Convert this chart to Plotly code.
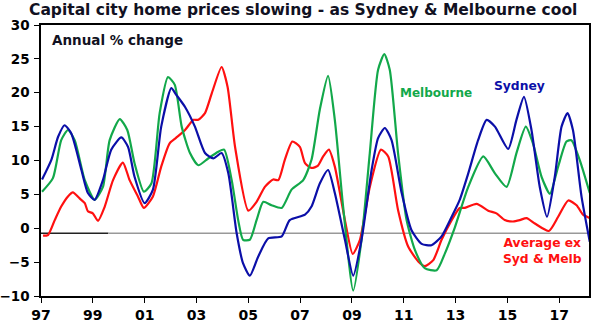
import plotly.graph_objects as go

# ---- data (decimal years, annual % change) ----
syd_t = [1997.04, 1997.4, 1997.66, 1997.91, 1998.17, 1998.56, 1998.81, 1999.07, 1999.39, 1999.71,
         2000.1, 2000.36, 2000.61, 2001.0, 2001.32, 2001.64, 2002.03, 2002.2, 2002.56, 2002.94,
         2003.33, 2003.65, 2003.97, 2004.23, 2004.55, 2004.8, 2005.06, 2005.38, 2005.77, 2006.29,
         2006.6, 2007.19, 2007.44, 2007.76, 2008.08, 2008.34, 2008.73, 2009.05, 2009.37, 2009.76,
         2010.01, 2010.27, 2010.53, 2010.92, 2011.3, 2011.69, 2012.07, 2012.46, 2012.85, 2013.16,
         2013.49, 2013.87, 2014.2, 2014.52, 2015.03, 2015.35, 2015.64, 2015.93, 2016.25, 2016.53,
         2016.83, 2017.09, 2017.32, 2017.53, 2017.86, 2018.18]
syd_v = [7.2, 10.1, 13.5, 15.2, 14.0, 8.6, 5.2, 4.2, 7.1, 11.6,
         13.4, 12.0, 7.6, 3.7, 5.7, 15.0, 20.7, 19.8, 17.9, 15.0,
         11.1, 10.3, 11.1, 8.1, -0.7, -5.2, -7.0, -4.2, -1.5, -1.2,
         1.2, 2.0, 3.2, 6.6, 8.6, 5.2, -1.7, -7.0, -1.7, 8.6,
         13.3, 14.8, 13.0, 5.2, -0.3, -2.3, -2.5, -1.2, 1.7, 4.2,
         8.1, 13.0, 16.0, 15.0, 11.7, 16.0, 19.4, 14.5, 6.1, 1.7,
         7.6, 15.0, 17.0, 14.5, 4.7, -2.0]

mel_t = [1997.04, 1997.46, 1997.78, 1998.04, 1998.3, 1998.69, 1999.07, 1999.39, 1999.65, 2000.04,
         2000.33, 2000.61, 2000.97, 2001.26, 2001.58, 2001.9, 2002.16, 2002.43, 2002.75, 2003.07,
         2003.45, 2003.84, 2004.07, 2004.36, 2004.61, 2004.8, 2005.06, 2005.32, 2005.58, 2005.9,
         2006.29, 2006.67, 2007.12, 2007.44, 2007.76, 2008.08, 2008.34, 2008.66, 2009.05, 2009.37,
         2009.69, 2010.01, 2010.25, 2010.46, 2010.78, 2011.11, 2011.43, 2011.81, 2012.27, 2012.59,
         2012.97, 2013.49, 2014.07, 2014.52, 2014.97, 2015.35, 2015.71, 2015.99, 2016.32, 2016.64,
         2016.96, 2017.28, 2017.47, 2017.79, 2018.18]
mel_v = [5.4, 7.4, 13.0, 14.5, 13.0, 7.1, 4.2, 6.1, 13.0, 16.1,
         14.5, 9.6, 5.4, 6.6, 17.0, 22.3, 21.2, 15.0, 11.1, 9.3,
         10.3, 11.3, 11.6, 7.1, 1.2, -1.7, -1.7, 1.2, 3.9, 3.4,
         3.0, 5.7, 7.1, 10.1, 17.5, 22.5, 16.0, 3.2, -9.2, -1.7,
         11.1, 23.4, 25.7, 23.4, 11.1, 1.2, -3.2, -5.9, -6.2, -3.7,
         0.1, 6.1, 10.6, 8.1, 6.1, 11.1, 15.0, 12.5, 7.6, 5.1,
         9.1, 12.8, 13.0, 10.1, 5.2]

avg_t = [1997.08, 1997.27, 1997.53, 1997.78, 1998.04, 1998.23, 1998.49, 1998.69, 1998.81, 1999.0,
         1999.2, 1999.46, 1999.78, 2000.16, 2000.42, 2000.74, 2000.97, 2001.32, 2001.64, 2001.96,
         2002.2, 2002.56, 2002.88, 2003.07, 2003.33, 2003.59, 2003.97, 2004.2, 2004.49, 2005.0,
         2005.32, 2005.64, 2005.96, 2006.16, 2006.41, 2006.7, 2006.99, 2007.19, 2007.44, 2007.68,
         2007.89, 2008.11, 2008.34, 2008.73, 2009.03, 2009.31, 2009.69, 2010.12, 2010.4, 2010.78,
         2011.17, 2011.56, 2011.81, 2012.14, 2012.46, 2012.85, 2013.16, 2013.36, 2013.81, 2014.26,
         2014.58, 2014.9, 2015.22, 2015.48, 2015.74, 2016.06, 2016.6, 2016.96, 2017.35, 2017.67,
         2017.92, 2018.18]
avg_v = [-1.1, -1.0, 1.2, 3.2, 4.7, 5.3, 4.4, 3.7, 2.5, 2.2,
         1.1, 3.2, 7.1, 9.7, 7.1, 4.7, 3.0, 4.7, 9.1, 12.5,
         13.3, 14.5, 16.0, 16.0, 17.0, 19.9, 23.8, 20.9, 12.0, 2.6,
         3.9, 6.1, 7.2, 7.1, 10.1, 12.8, 12.0, 9.6, 8.9, 9.2,
         10.6, 11.6, 9.1, 1.2, -3.8, -1.7, 6.1, 11.6, 10.6, 2.7,
         -2.7, -4.9, -5.6, -4.7, -1.7, 1.2, 3.0, 3.0, 3.6, 2.6,
         2.2, 1.2, 1.0, 1.2, 1.5, 0.7, -0.4, 1.7, 4.1, 3.4,
         2.0, 1.5]

tick_years = list(range(1997, 2018, 2))
tick_labels = ["97", "99", "01", "03", "05", "07", "09", "11", "13", "15", "17"]
y_ticks = [-10, -5, 0, 5, 10, 15, 20, 25, 30]

BLUE = "#0b0fa8"
GREEN = "#12a84a"
RED = "#ff1010"
FONT = "DejaVu Sans, Liberation Sans, Arial, sans-serif"

fig = go.Figure()
fig.add_trace(go.Scatter(x=avg_t, y=avg_v, mode="lines", line=dict(color=RED, width=2.2, shape="spline", smoothing=0.6)))
fig.add_trace(go.Scatter(x=mel_t, y=mel_v, mode="lines", line=dict(color=GREEN, width=2.2, shape="spline", smoothing=0.6)))
fig.add_trace(go.Scatter(x=syd_t, y=syd_v, mode="lines", line=dict(color=BLUE, width=2.2, shape="spline", smoothing=0.6)))

# baseline (drawn slightly below zero as in the reference)
fig.add_shape(type="line", xref="x", yref="y", x0=1997, x1=1999.6, y0=-0.75, y1=-0.75,
              line=dict(color="#222222", width=1.5), layer="below")
fig.add_shape(type="line", xref="x", yref="y", x0=1999.6, x1=2018.15, y0=-0.75, y1=-0.75,
              line=dict(color="#999999", width=1.5), layer="below")

fig.update_layout(
    width=596, height=328,
    margin=dict(l=41, r=7, t=25, b=32, autoexpand=False),
    paper_bgcolor="white", plot_bgcolor="white",
    showlegend=False,
    font=dict(family=FONT, color="#000000"),
    title=dict(text="<b>Capital city home prices slowing - as Sydney & Melbourne cool</b>",
               x=29 / 596, xanchor="left", y=1 - 10 / 328, yanchor="middle",
               font=dict(size=15.5, color="#111122", family=FONT)),
)
fig.update_xaxes(range=[1997, 2018.15], tickmode="array", tickvals=tick_years, ticktext=tick_labels,
                 automargin=False,
                 showgrid=False, zeroline=False, showline=True, linecolor="#000000", linewidth=1.5,
                 mirror=True, ticks="outside", ticklen=5, tickcolor="#000000", tickwidth=1.2,
                 tickfont=dict(size=14, family=FONT, color="#000000", weight="bold"))
fig.update_yaxes(range=[-10, 30], tickmode="array", tickvals=y_ticks,
                 automargin=False,
                 showgrid=False, zeroline=False, showline=True, linecolor="#000000", linewidth=1.5,
                 mirror=True, ticks="outside", ticklen=5, tickcolor="#000000", tickwidth=1.2,
                 ticklabelstandoff=2,
                 tickfont=dict(size=13.5, family=FONT, color="#000000", weight="bold"))

def ann(text, px, py, color, size, xanchor="left", align="left"):
    fig.add_annotation(text=text, xref="paper", yref="paper",
                       x=(px - 41) / 548, y=(296 - py) / 271, xanchor=xanchor, yanchor="middle",
                       showarrow=False, align=align,
                       font=dict(size=size, color=color, family=FONT, weight="bold"))

ann("Annual % change", 50, 40, "#111122", 13.5)
ann("Melbourne", 398, 93, GREEN, 12)
ann("Sydney", 492, 86, BLUE, 12.3)
ann("Average ex<br>Syd & Melb", 542, 251, RED, 12.3, xanchor="center", align="center")

fig.write_html("out.html")
